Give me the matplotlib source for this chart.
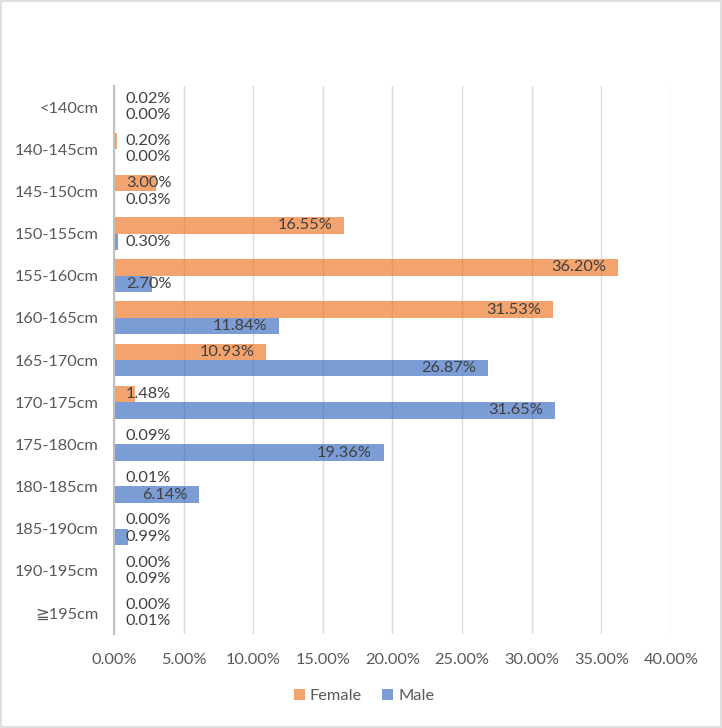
import numpy as np
import matplotlib.pyplot as plt
from matplotlib.patches import Rectangle

plt.rcParams['font.family'] = ['Lato', 'DejaVu Sans']

# data (percent)
categories = ['<140cm', '140-145cm', '145-150cm', '150-155cm', '155-160cm',
              '160-165cm', '165-170cm', '170-175cm', '175-180cm', '180-185cm',
              '185-190cm', '190-195cm', '\u2267195cm']
female = [0.02, 0.20, 3.00, 16.55, 36.20, 31.53, 10.93, 1.48, 0.09, 0.01, 0.00, 0.00, 0.00]
male = [0.00, 0.00, 0.03, 0.30, 2.70, 11.84, 26.87, 31.65, 19.36, 6.14, 0.99, 0.09, 0.01]
xticks = [0, 5, 10, 15, 20, 25, 30, 35, 40]

orange = '#ED7D31'
blue = '#4472C4'
text_col = '#595959'
label_col = '#404040'
fs = 11.8

fig = plt.figure(figsize=(7.22, 7.28), dpi=100)
ax = fig.add_axes([114 / 722, 1 - 634 / 728, 557 / 722, 548 / 728])

y = np.arange(len(categories))
h = 0.39
ax.barh(y - h / 2, female, height=h, color=orange, alpha=0.7, zorder=3, label='Female')
ax.barh(y + h / 2, male, height=h, color=blue, alpha=0.7, zorder=3, label='Male')

# labels: inside end when they fit, otherwise next to the axis
pad = 0.86
for vals, offs in [(female, -h / 2), (male, h / 2)]:
    for i, v in enumerate(vals):
        txt = f'{v:.2f}%'
        if v > 5:
            ax.text(v - pad, i + offs, txt, ha='right', va='center',
                    fontsize=fs, color=label_col, zorder=4)
        else:
            ax.text(pad, i + offs, txt, ha='left', va='center',
                    fontsize=fs, color=label_col, zorder=4)

ax.set_xlim(0, 40)
ax.set_ylim(len(categories) - 0.5, -0.5)
ax.set_yticks(y)
ax.set_yticklabels(categories)
ax.set_xticks(xticks)
ax.set_xticklabels([f'{t:.2f}%' for t in xticks])
ax.tick_params(axis='y', length=0, pad=11, labelsize=fs, labelcolor=text_col)
ax.tick_params(axis='x', length=0, pad=14, labelsize=fs, labelcolor=text_col)
ax.grid(axis='x', color='#d9d9d9', linewidth=1, zorder=0)
for s in ['top', 'right', 'bottom']:
    ax.spines[s].set_visible(False)
ax.spines['left'].set_color('#bfbfbf')
ax.spines['left'].set_linewidth(1.5)
ax.spines['left'].set_zorder(5)

fig.legend(loc='center', bbox_to_anchor=(364 / 722, 1 - 696 / 728), ncol=2,
           frameon=False, fontsize=fs, handlelength=0.7, handleheight=0.7,
           handletextpad=0.3, columnspacing=1.2, labelcolor=text_col)

fig.patches.append(Rectangle((0.002, 0.002), 0.996, 0.996, transform=fig.transFigure,
                             fill=False, edgecolor='#d9d9d9', linewidth=1.2))

fig.savefig('out.png', dpi=100)
